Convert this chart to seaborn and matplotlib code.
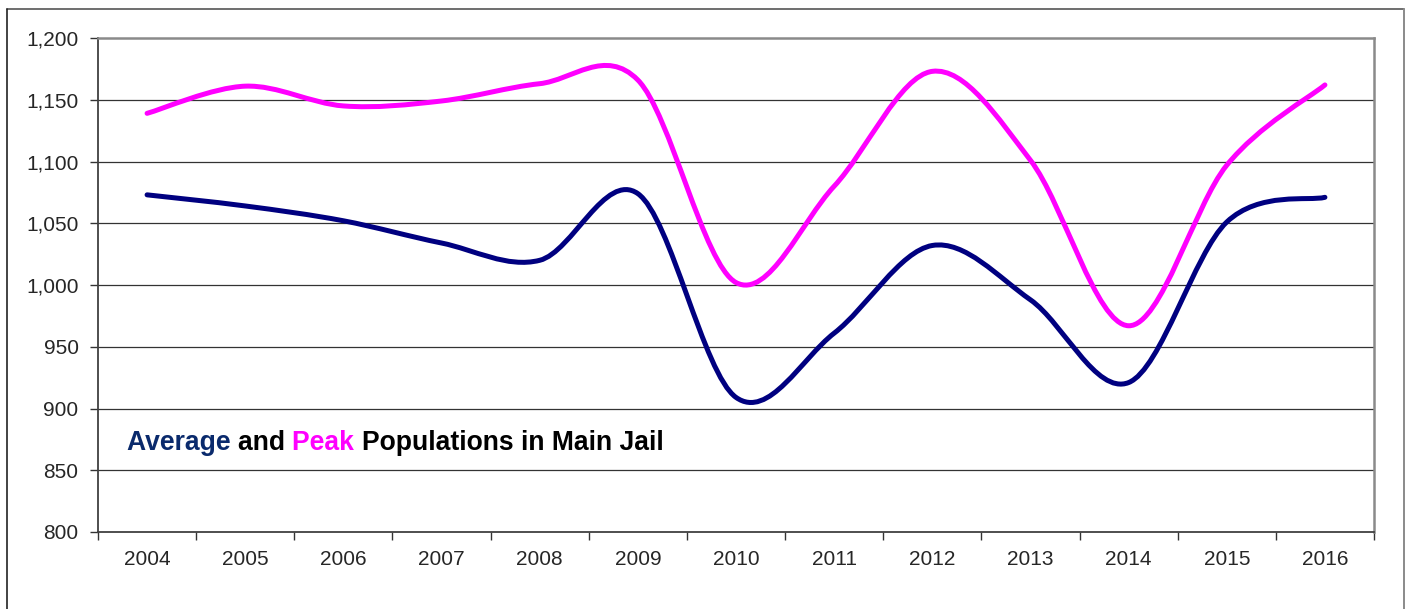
import numpy as np
import seaborn as sns
import matplotlib.pyplot as plt
from matplotlib.path import Path
from matplotlib.patches import PathPatch
from matplotlib.lines import Line2D

years = ['2004', '2005', '2006', '2007', '2008', '2009', '2010',
         '2011', '2012', '2013', '2014', '2015', '2016']
average_pop = [1073, 1064, 1052, 1034, 1020, 1074, 909, 961, 1032, 988, 921, 1051, 1071]
peak_pop = [1139, 1161, 1145, 1149, 1163, 1166, 1002, 1080, 1173, 1101, 967, 1097, 1162]
y_ticks = [800, 850, 900, 950, 1000, 1050, 1100, 1150, 1200]

sns.set_style('white')
plt.rcParams['font.family'] = ['Liberation Sans', 'DejaVu Sans']

fig = plt.figure(figsize=(14.08, 6.09), dpi=100)
ax = fig.add_axes([98 / 1408, 1 - 532 / 609, 1276 / 1408, 494 / 609])


# excel style smoothed line: cubic bezier segments between the points
def smooth_path(vals):
    x = np.arange(len(vals), dtype=float)
    y = np.asarray(vals, dtype=float)
    verts = [(x[0], y[0])]
    codes = [Path.MOVETO]
    n = len(x)
    for i in range(n - 1):
        p0 = max(i - 1, 0)
        p3 = min(i + 2, n - 1)
        c1 = (x[i] + (x[i + 1] - x[p0]) / 6, y[i] + (y[i + 1] - y[p0]) / 6)
        c2 = (x[i + 1] - (x[p3] - x[i]) / 6, y[i + 1] - (y[p3] - y[i]) / 6)
        verts += [c1, c2, (x[i + 1], y[i + 1])]
        codes += [Path.CURVE4] * 3
    return Path(verts, codes)


for vals, col in [(peak_pop, '#FF00FF'), (average_pop, '#000080')]:
    ax.add_patch(PathPatch(smooth_path(vals), facecolor='none', edgecolor=col,
                           lw=3.6, capstyle='round', joinstyle='round', zorder=3))

ax.set_xlim(-0.5, len(years) - 0.5)
ax.set_ylim(800, 1200)

# gridlines
ax.set_yticks(y_ticks)
ax.set_yticklabels([f'{v:,}' for v in y_ticks], fontsize=15)
for v in y_ticks[1:-1]:
    ax.axhline(v, color='#333333', lw=0.9, zorder=1)

# category axis: ticks between categories, labels centred
ax.set_xticks(np.arange(len(years) + 1) - 0.5)
ax.set_xticklabels([])
ax.set_xticks(np.arange(len(years)), minor=True)
ax.set_xticklabels(years, minor=True, fontsize=15)
ax.tick_params(axis='x', which='major', direction='out', length=6, width=1, color='#333333', bottom=True)
ax.tick_params(axis='x', which='minor', length=0, pad=13)
ax.tick_params(axis='y', direction='out', length=6, width=1, color='#333333', left=True, pad=8)

for side in ['top', 'right']:
    ax.spines[side].set_color('#8a8a8a')
    ax.spines[side].set_linewidth(1.8)
for side in ['left', 'bottom']:
    ax.spines[side].set_color('#404040')
    ax.spines[side].set_linewidth(1.3)

# chart title inside plot area, coloured words
renderer = fig.canvas.get_renderer()
x0 = 127 / 1408
yb = 1 - 450 / 609
parts = [('Average ', '#0A2A6C'), ('and ', 'black'), ('Peak ', '#FF00FF'),
         ('Populations in Main Jail', 'black')]
for txt, col in parts:
    t = fig.text(x0, yb, txt, color=col, fontsize=19.1, fontweight='bold',
                 va='baseline', ha='left')
    bb = t.get_window_extent(renderer=renderer)
    x0 += bb.width / fig.bbox.width

# outer chart border
fig.add_artist(Line2D([7 / 1408, 1404 / 1408], [1 - 9 / 609, 1 - 9 / 609], color='#555555', lw=1.2))
fig.add_artist(Line2D([7 / 1408, 7 / 1408], [1 - 9 / 609, -0.01], color='#222222', lw=1.2))
fig.add_artist(Line2D([1404 / 1408, 1404 / 1408], [1 - 9 / 609, -0.01], color='#8a8a8a', lw=1.4))

fig.savefig('out.png', dpi=100)
